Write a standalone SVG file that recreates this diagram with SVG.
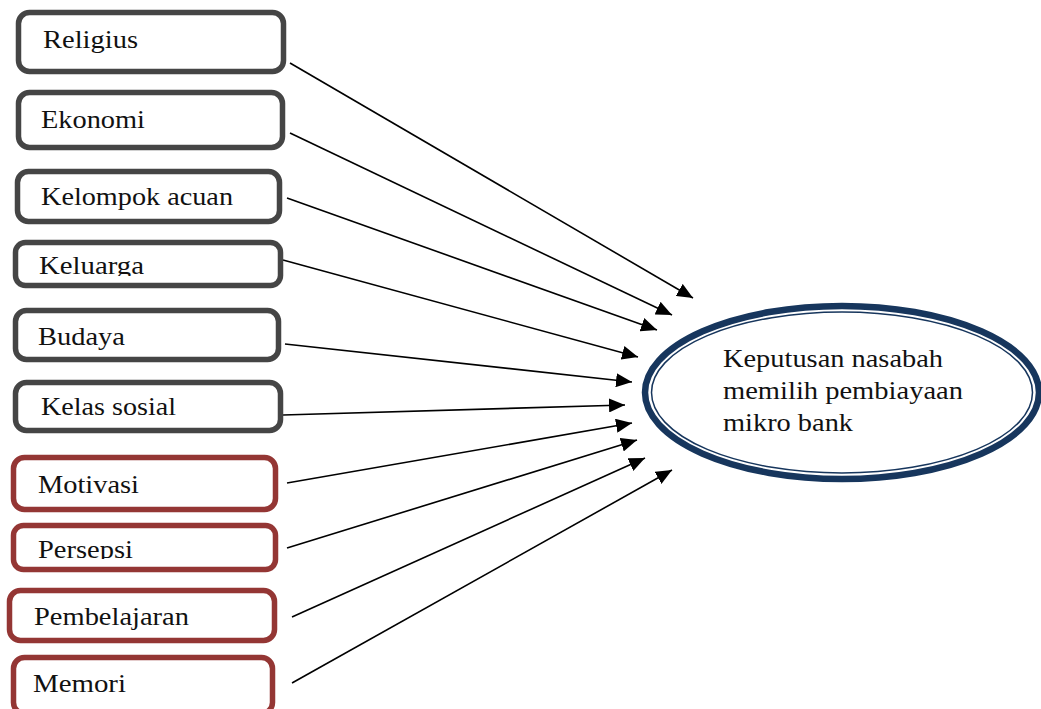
<svg xmlns="http://www.w3.org/2000/svg" width="1041" height="709" viewBox="0 0 1041 709">
<style>
.g{fill:#fff;stroke:#454545;stroke-width:5.5}
.r{fill:#fff;stroke:#943634;stroke-width:5.5}
.t{font-family:"Liberation Serif","Times New Roman",serif;font-size:25.5px;fill:#111}
.c line{stroke:#000;stroke-width:1.6;marker-end:url(#ah)}
</style>
<defs>
<marker id="ah" markerUnits="userSpaceOnUse" markerWidth="17" markerHeight="14" refX="16" refY="7" orient="auto">
<path d="M0,0 L16,7 L0,14 z" fill="#000"/>
</marker>
<clipPath id="ck"><rect x="0" y="240" width="300" height="36"/></clipPath>
<clipPath id="cp"><rect x="0" y="520" width="300" height="39"/></clipPath>
</defs>
<rect width="1041" height="709" fill="#fff"/>
<g id="connectors" class="c">
<line x1="290" y1="63" x2="693" y2="298"/>
<line x1="290" y1="133" x2="672" y2="315"/>
<line x1="287" y1="198" x2="657" y2="330"/>
<line x1="283" y1="260" x2="638" y2="357"/>
<line x1="285" y1="344" x2="632" y2="382"/>
<line x1="283" y1="415" x2="625" y2="405"/>
<line x1="287" y1="483" x2="632" y2="423"/>
<line x1="287" y1="548" x2="637" y2="440"/>
<line x1="292" y1="617" x2="645" y2="458"/>
<line x1="292" y1="683" x2="672" y2="470"/>
</g>
<g id="religius"><rect class="g" x="18.5" y="12.5" width="265" height="59" rx="11"/><text class="t" x="43" y="48" textLength="95" lengthAdjust="spacingAndGlyphs">Religius</text></g>
<g id="ekonomi"><rect class="g" x="18.5" y="92.5" width="264" height="55" rx="11"/><text class="t" x="41" y="128" textLength="104" lengthAdjust="spacingAndGlyphs">Ekonomi</text></g>
<g id="kelompok"><rect class="g" x="17.5" y="171.5" width="262" height="50" rx="11"/><text class="t" x="41" y="205" textLength="192" lengthAdjust="spacingAndGlyphs">Kelompok acuan</text></g>
<g id="keluarga"><rect class="g" x="15.5" y="242.5" width="265" height="43" rx="10"/><text class="t" x="39" y="274" textLength="105" lengthAdjust="spacingAndGlyphs" clip-path="url(#ck)">Keluarga</text></g>
<g id="budaya"><rect class="g" x="15.5" y="310.5" width="263" height="49" rx="11"/><text class="t" x="38" y="345" textLength="87" lengthAdjust="spacingAndGlyphs">Budaya</text></g>
<g id="kelas"><rect class="g" x="15.5" y="382.5" width="265" height="48" rx="11"/><text class="t" x="41" y="415" textLength="135" lengthAdjust="spacingAndGlyphs">Kelas sosial</text></g>
<g id="motivasi"><rect class="r" x="13.5" y="457.5" width="262" height="52" rx="11"/><text class="t" x="38" y="493" textLength="101" lengthAdjust="spacingAndGlyphs">Motivasi</text></g>
<g id="persepsi"><rect class="r" x="13.5" y="525.5" width="262" height="44" rx="10"/><text class="t" x="38" y="558" textLength="95" lengthAdjust="spacingAndGlyphs" clip-path="url(#cp)">Persepsi</text></g>
<g id="pembelajaran"><rect class="r" x="9.5" y="590.5" width="265" height="50" rx="11"/><text class="t" x="34" y="625" textLength="155" lengthAdjust="spacingAndGlyphs">Pembelajaran</text></g>
<g id="memori"><rect class="r" x="13.5" y="657.5" width="259" height="56" rx="11"/><text class="t" x="33" y="692" textLength="93" lengthAdjust="spacingAndGlyphs">Memori</text></g>
<g id="keputusan">
<ellipse cx="842" cy="392.5" rx="197" ry="86.5" fill="#fff" stroke="#17365D" stroke-width="6.5"/>
<ellipse cx="842" cy="392.5" rx="190.5" ry="80.5" fill="none" stroke="#17365D" stroke-width="1.5"/>
<text class="t" x="723" y="367" textLength="220" lengthAdjust="spacingAndGlyphs">Keputusan nasabah</text>
<text class="t" x="723" y="399" textLength="240" lengthAdjust="spacingAndGlyphs">memilih pembiayaan</text>
<text class="t" x="723" y="431" textLength="130" lengthAdjust="spacingAndGlyphs">mikro bank</text>
</g>
</svg>
